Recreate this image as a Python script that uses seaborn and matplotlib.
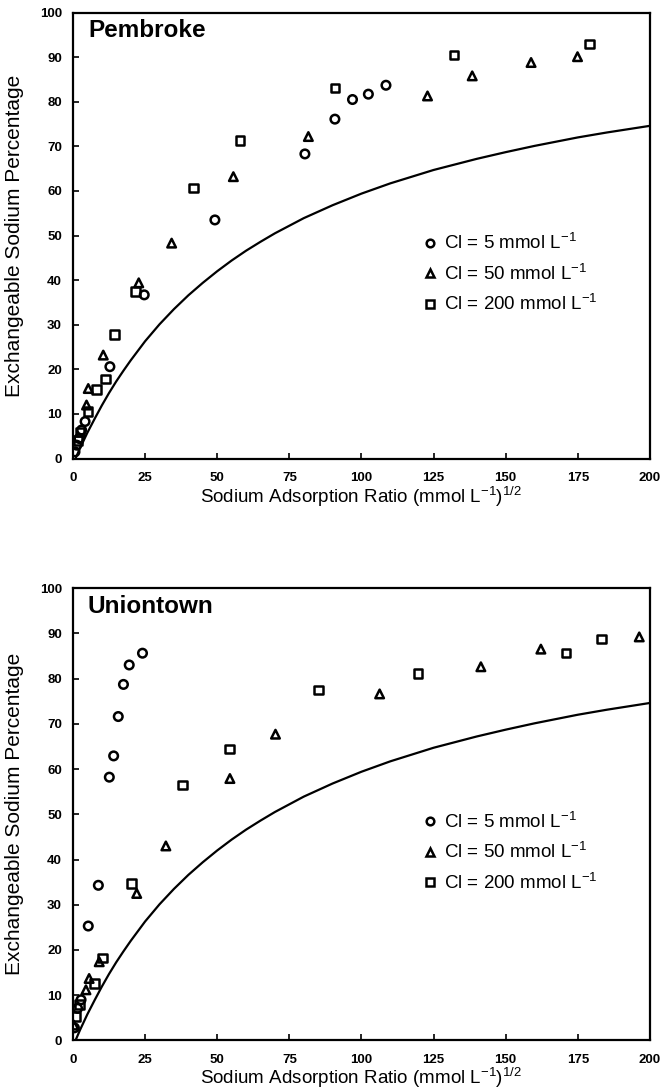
import matplotlib
matplotlib.use("Agg")
import matplotlib.pyplot as plt
import seaborn as sns
import pandas as pd
from matplotlib.lines import Line2D

# ---------------- data ----------------
# Pembroke
pem_c5_sar = [0.7, 1.3, 2.1, 3.0, 4.2, 12.8, 24.7, 49.2, 80.4, 90.8, 96.9, 102.4, 108.5]
pem_c5_esp = [1.5, 3.0, 4.5, 6.4, 8.3, 20.6, 36.7, 53.5, 68.3, 76.1, 80.5, 81.7, 83.7]
pem_c50_sar = [4.7, 5.3, 10.5, 22.8, 34.2, 55.6, 81.6, 122.9, 138.4, 158.8, 174.9]
pem_c50_esp = [12.0, 15.7, 23.2, 39.4, 48.3, 63.2, 72.2, 81.3, 85.8, 88.8, 90.1]
pem_c200_sar = [1.8, 2.4, 5.2, 8.2, 11.3, 14.3, 21.7, 41.7, 57.9, 90.8, 132.1, 179.0]
pem_c200_esp = [4.1, 6.0, 10.5, 15.5, 17.8, 27.8, 37.4, 60.7, 71.3, 83.1, 90.5, 92.9]

# Uniontown
uni_c5_sar = [0.5, 1.6, 2.8, 5.3, 8.8, 12.6, 14.1, 15.7, 17.5, 19.5, 24.1]
uni_c5_esp = [2.8, 7.1, 9.0, 25.3, 34.3, 58.2, 62.9, 71.6, 78.7, 83.0, 85.6]
uni_c50_sar = [0.3, 4.5, 5.6, 9.1, 22.1, 32.2, 54.4, 70.2, 106.3, 141.4, 162.2, 196.3]
uni_c50_esp = [3.4, 11.2, 13.7, 17.4, 32.5, 43.0, 57.9, 67.7, 76.6, 82.6, 86.5, 89.2]
uni_c200_sar = [1.0, 2.2, 7.4, 10.3, 20.3, 38.0, 54.3, 85.2, 119.6, 170.9, 183.3]
uni_c200_esp = [5.3, 8.0, 12.6, 18.2, 34.7, 56.5, 64.4, 77.5, 81.1, 85.6, 88.7]

# reference curve (same in both panels)
curve_sar = [1, 2.5, 5, 7.5, 10, 12.5, 15, 17.5, 20, 25, 30, 35, 40, 45, 50, 55, 60,
             65, 70, 75, 80, 90, 100, 110, 125, 140, 150, 160, 175, 185, 200]
curve_esp = [0.2, 2.4, 5.8, 8.9, 11.9, 14.7, 17.3, 19.7, 22.0, 26.3, 30.1, 33.5, 36.6,
             39.4, 42.0, 44.4, 46.6, 48.6, 50.5, 52.2, 53.9, 56.8, 59.4, 61.7, 64.7,
             67.2, 68.7, 70.1, 72.0, 73.1, 74.6]

series_labels = ["Cl = 5 mmol L$^{-1}$", "Cl = 50 mmol L$^{-1}$", "Cl = 200 mmol L$^{-1}$"]
panel_names = ["Pembroke", "Uniontown"]
x_ticks = [0, 25, 50, 75, 100, 125, 150, 175, 200]
y_ticks = [0, 10, 20, 30, 40, 50, 60, 70, 80, 90, 100]

# ---------------- style ----------------
sns.set_theme(style="ticks")
plt.rcParams["font.family"] = ["Liberation Sans", "DejaVu Sans"]
plt.rcParams["mathtext.fontset"] = "custom"
plt.rcParams["mathtext.rm"] = "Liberation Sans"
plt.rcParams["mathtext.it"] = "Liberation Sans"
plt.rcParams["mathtext.default"] = "regular"
plt.rcParams["text.color"] = "black"
plt.rcParams["axes.labelcolor"] = "black"
plt.rcParams["xtick.color"] = "black"
plt.rcParams["ytick.color"] = "black"

markers = {series_labels[0]: "o", series_labels[1]: "^", series_labels[2]: "s"}


def make_df(s5, e5, s50, e50, s200, e200):
    rows = []
    for lab, xs, ys in zip(series_labels, [s5, s50, s200], [e5, e50, e200]):
        for x, y in zip(xs, ys):
            rows.append({"SAR": x, "ESP": y, "Cl": lab})
    return pd.DataFrame(rows)


dfs = [
    make_df(pem_c5_sar, pem_c5_esp, pem_c50_sar, pem_c50_esp, pem_c200_sar, pem_c200_esp),
    make_df(uni_c5_sar, uni_c5_esp, uni_c50_sar, uni_c50_esp, uni_c200_sar, uni_c200_esp),
]
curve_df = pd.DataFrame({"SAR": curve_sar, "ESP": curve_esp})

fig = plt.figure(figsize=(6.67, 10.91), dpi=100)
axes = [fig.add_axes([0.1094, 0.5797, 0.865, 0.4088]),
        fig.add_axes([0.1094, 0.0463, 0.865, 0.4147])]

for ax, df, name in zip(axes, dfs, panel_names):
    sns.lineplot(data=curve_df, x="SAR", y="ESP", ax=ax, color="black", lw=1.6,
                 sort=True, legend=False)
    for lab in series_labels:
        sub = df[df["Cl"] == lab]
        sns.scatterplot(data=sub, x="SAR", y="ESP", ax=ax, marker=markers[lab],
                        s=38, facecolors="none", edgecolor="black", linewidth=1.8,
                        legend=False, zorder=3)
    ax.set_xlim(0, 200)
    ax.set_ylim(0, 100)
    ax.set_xticks(x_ticks)
    ax.set_yticks(y_ticks)
    ax.set_xticklabels([str(t) for t in x_ticks], fontweight="bold", fontsize=9.5)
    ax.set_yticklabels([str(t) for t in y_ticks], fontweight="bold", fontsize=9.5)
    ax.tick_params(axis="both", direction="in", length=4, width=1.2, colors="black")
    ax.tick_params(axis="x", pad=10)
    ax.tick_params(axis="y", pad=8)
    for sp in ax.spines.values():
        sp.set_visible(True)
        sp.set_linewidth(1.6)
        sp.set_color("black")
    ax.set_xlabel("Sodium Adsorption Ratio (mmol L$^{-1}$)$^{1/2}$", fontsize=13.5,
                  labelpad=0)
    ax.set_ylabel("Exchangeable Sodium Percentage", fontsize=15, labelpad=11)
    ax.text(0.026, 0.985, name, transform=ax.transAxes, fontsize=17.5,
            fontweight="bold", va="top", ha="left")
    handles = [Line2D([], [], ls="none", marker=markers[l], markersize=5.5,
                      markerfacecolor="none", markeredgecolor="black",
                      markeredgewidth=1.8) for l in series_labels]
    ax.legend(handles, series_labels, loc="upper left",
              bbox_to_anchor=(0.589, 0.522), frameon=False, fontsize=13.5,
              handletextpad=0.25, labelspacing=0.55, handlelength=1.0,
              borderaxespad=0)
    ax.set_facecolor("white")

fig.patch.set_facecolor("white")
fig.savefig("out.png", dpi=100, facecolor="white")
